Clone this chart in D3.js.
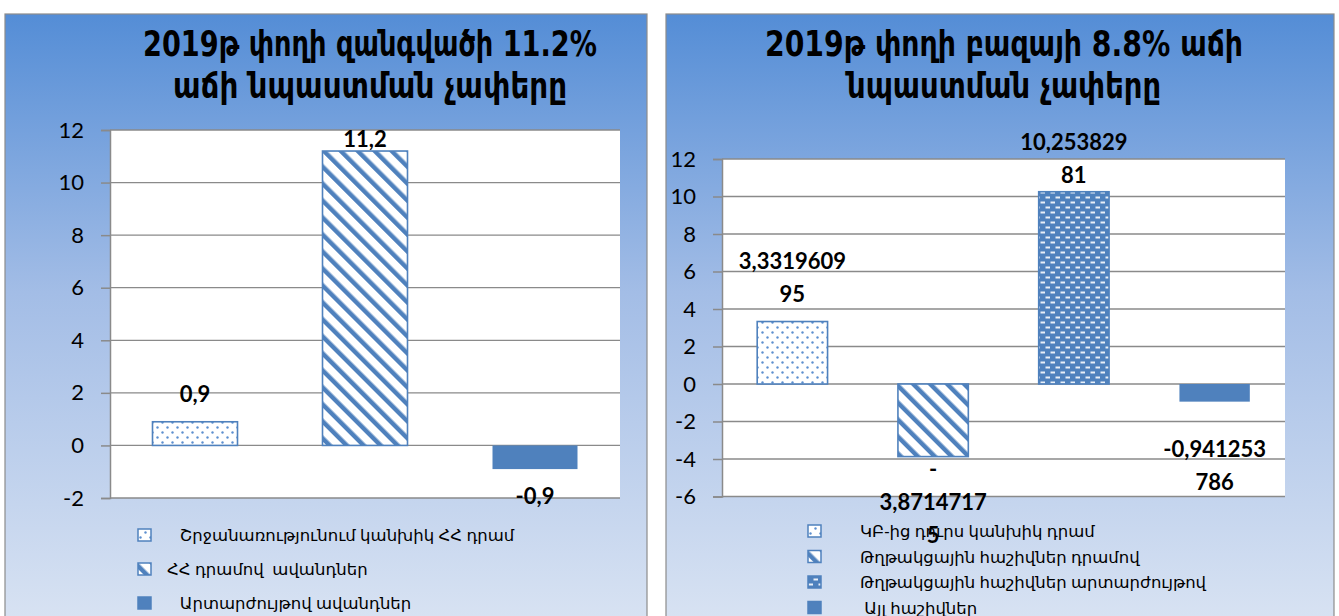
<!DOCTYPE html>
<html>
<head>
<meta charset="utf-8">
<script src="https://cdn.jsdelivr.net/npm/d3@7"></script>
<style>
  body { margin: 0; background: #fff; }
  svg { display: block; }
</style>
</head>
<body>
<svg id="chart" width="1339" height="616"></svg>
<script>
// ---- data (left chart: money supply) ----
const leftTitle = ['2019թ փողի զանգվածի 11.2%', 'աճի նպաստման չափերը'];
const leftCategories = ['   Շրջանառությունում կանխիկ ՀՀ դրամ', 'ՀՀ դրամով  ավանդներ', '   Արտարժույթով ավանդներ'];
const leftValues = [0.9, 11.2, -0.9];
const leftLabels = [['0,9'], ['11,2'], ['-0,9']];
const leftTicks = [-2, 0, 2, 4, 6, 8, 10, 12];

// ---- data (right chart: monetary base) ----
const rightTitle = ['2019թ փողի բազայի 8.8% աճի', 'նպաստման չափերը'];
const rightCategories = ['ԿԲ-ից դուրս կանխիկ դրամ', 'Թղթակցային հաշիվներ դրամով', 'Թղթակցային հաշիվներ արտարժույթով', ' Այլ հաշիվներ'];
const rightValues = [3.331960995, -3.87147175, 10.25382981, -0.941253786];
const rightLabels = [['3,3319609', '95'], ['-', '3,8714717', '5'], ['10,253829', '81'], ['-0,941253', '786']];
const rightTicks = [-6, -4, -2, 0, 2, 4, 6, 8, 10, 12];

const blue = '#4f81bd';
const grid = '#8a8a8a';
const numFont = 'Lato, Carlito, "Open Sans", sans-serif';
const armFont = '"Noto Sans", "DejaVu Sans", sans-serif';

const svg = d3.select('#chart');
const defs = svg.append('defs');

// panel background gradient
const grad = defs.append('linearGradient')
  .attr('id', 'panelGrad')
  .attr('x1', 0).attr('y1', 0).attr('x2', 0).attr('y2', 1);
grad.append('stop').attr('offset', '0%').attr('stop-color', '#548dd6');
grad.append('stop').attr('offset', '45%').attr('stop-color', '#a3bde6');
grad.append('stop').attr('offset', '100%').attr('stop-color', '#dae4f3');

// fill patterns
const dots = defs.append('pattern').attr('id', 'dots')
  .attr('patternUnits', 'userSpaceOnUse').attr('width', 10).attr('height', 10);
dots.append('rect').attr('width', 10).attr('height', 10).attr('fill', '#fff');
dots.append('circle').attr('cx', 2.5).attr('cy', 2.5).attr('r', 1.2).attr('fill', '#5d8fcf');
dots.append('circle').attr('cx', 7.5).attr('cy', 7.5).attr('r', 1.2).attr('fill', '#5d8fcf');

const stripes = defs.append('pattern').attr('id', 'stripes')
  .attr('patternUnits', 'userSpaceOnUse').attr('width', 12).attr('height', 12)
  .attr('patternTransform', 'rotate(-45)');
stripes.append('rect').attr('width', 12).attr('height', 12).attr('fill', '#fff');
stripes.append('rect').attr('width', 4.5).attr('height', 12).attr('fill', blue);

const bricks = defs.append('pattern').attr('id', 'bricks')
  .attr('patternUnits', 'userSpaceOnUse').attr('width', 10).attr('height', 10);
bricks.append('rect').attr('width', 10).attr('height', 10).attr('fill', blue);
bricks.append('rect').attr('x', 0.5).attr('y', 1.5).attr('width', 4.5).attr('height', 2).attr('fill', '#e9eff8');
bricks.append('rect').attr('x', 5.5).attr('y', 6.5).attr('width', 4.5).attr('height', 2).attr('fill', '#e9eff8');

function drawPanel(p) {
  const g = svg.append('g');

  g.append('rect')
    .attr('x', p.panel[0]).attr('y', 14)
    .attr('width', p.panel[1] - p.panel[0]).attr('height', 620)
    .attr('fill', 'url(#panelGrad)')
    .attr('stroke', '#8c8c8c').attr('stroke-width', 1.2);

  // title
  g.selectAll('text.title')
    .data(p.title)
    .enter()
    .append('text')
    .attr('class', 'title')
    .attr('x', p.titleX)
    .attr('y', (d, i) => p.titleY + i * 42)
    .attr('text-anchor', 'middle')
    .attr('font-family', '"DejaVu Sans Condensed", "DejaVu Sans", sans-serif')
    .attr('font-weight', 'bold')
    .attr('font-size', '36px')
    .attr('textLength', (d, i) => p.titleWidths[i])
    .attr('lengthAdjust', 'spacingAndGlyphs')
    .attr('fill', '#000')
    .text(d => d);

  const x = d3.scaleBand()
    .domain(d3.range(p.values.length))
    .range([p.plot.left, p.plot.right])
    .paddingInner(0.5).paddingOuter(0.25);
  const y = d3.scaleLinear()
    .domain([p.ticks[0], p.ticks[p.ticks.length - 1]])
    .range([p.plot.bottom, p.plot.top]);

  g.append('rect')
    .attr('x', p.plot.left).attr('y', p.plot.top)
    .attr('width', p.plot.right - p.plot.left)
    .attr('height', p.plot.bottom - p.plot.top)
    .attr('fill', '#fff');

  // gridlines
  g.selectAll('line.grid')
    .data(p.ticks)
    .enter()
    .append('line')
    .attr('x1', p.plot.left).attr('x2', p.plot.right)
    .attr('y1', d => y(d)).attr('y2', d => y(d))
    .attr('stroke', grid).attr('stroke-width', 1.3);

  // y axis
  const axis = g.append('g')
    .attr('transform', `translate(${p.plot.left},0)`)
    .call(d3.axisLeft(y).tickValues(p.ticks).tickSize(9).tickPadding(17)
      .tickFormat(d => d));
  axis.select('.domain').attr('stroke', grid).attr('stroke-width', 1.5);
  axis.selectAll('.tick line').attr('stroke', grid).attr('stroke-width', 1.5);
  axis.selectAll('.tick text')
    .attr('font-family', numFont).attr('font-size', '22px').attr('fill', '#000');

  // bars
  g.selectAll('rect.bar')
    .data(p.values)
    .enter()
    .append('rect')
    .attr('class', 'bar')
    .attr('x', (d, i) => x(i))
    .attr('width', x.bandwidth())
    .attr('y', d => y(Math.max(0, d)))
    .attr('height', d => Math.abs(y(d) - y(0)))
    .attr('fill', (d, i) => p.fills[i])
    .attr('stroke', (d, i) => p.fills[i] === blue ? 'none' : blue)
    .attr('stroke-width', 1.6);

  // value labels (lines stacked away from the bar end)
  const lineH = 33;
  p.labels.forEach((lines, i) => {
    const v = p.values[i];
    const cx = x(i) + x.bandwidth() / 2;
    lines.forEach((line, j) => {
      let by;
      if (v >= 0) {
        by = y(v) - p.labelGap[i] - (lines.length - 1 - j) * lineH;
      } else {
        by = y(v) + p.labelGap[i] + j * lineH;
      }
      g.append('text')
        .attr('x', cx).attr('y', by)
        .attr('text-anchor', 'middle')
        .attr('font-family', numFont)
        .attr('font-weight', 'bold')
        .attr('font-size', '22px')
        .attr('fill', '#000')
        .text(line);
    });
  });

  // legend
  const leg = g.selectAll('g.legend')
    .data(p.categories)
    .enter()
    .append('g')
    .attr('transform', (d, i) => `translate(${p.legend.x},${p.legend.y + i * p.legend.step})`);
  leg.append('rect')
    .attr('x', 0).attr('y', -6)
    .attr('width', 13).attr('height', 12)
    .attr('fill', (d, i) => p.fills[i])
    .attr('stroke', blue).attr('stroke-width', 1.5);
  leg.append('text')
    .attr('x', p.legend.textDx)
    .attr('y', 6)
    .attr('xml:space', 'preserve')
    .style('white-space', 'pre')
    .attr('font-family', armFont)
    .attr('font-size', '16.5px')
    .attr('fill', '#000')
    .text(d => d);
}

drawPanel({
  panel: [5, 647],
  title: leftTitle,
  titleX: 370, titleY: 56, titleWidths: [454, 394],
  plot: { left: 110, right: 620, top: 130, bottom: 498 },
  ticks: leftTicks,
  values: leftValues,
  labels: leftLabels,
  labelGap: [20, 4, 35],
  fills: ['url(#dots)', 'url(#stripes)', blue],
  categories: leftCategories,
  legend: { x: 138, y: 535, step: 34, textDx: 29 }
});

drawPanel({
  panel: [666, 1334],
  title: rightTitle,
  titleX: 1004, titleY: 56, titleWidths: [478, 314],
  plot: { left: 722, right: 1285, top: 159, bottom: 496.5 },
  ticks: rightTicks,
  values: rightValues,
  labels: rightLabels,
  labelGap: [20, 20, 9, 55],
  fills: ['url(#dots)', 'url(#stripes)', 'url(#bricks)', blue],
  categories: rightCategories,
  legend: { x: 808, y: 531, step: 25.5, textDx: 52 }
});
</script>
</body>
</html>
